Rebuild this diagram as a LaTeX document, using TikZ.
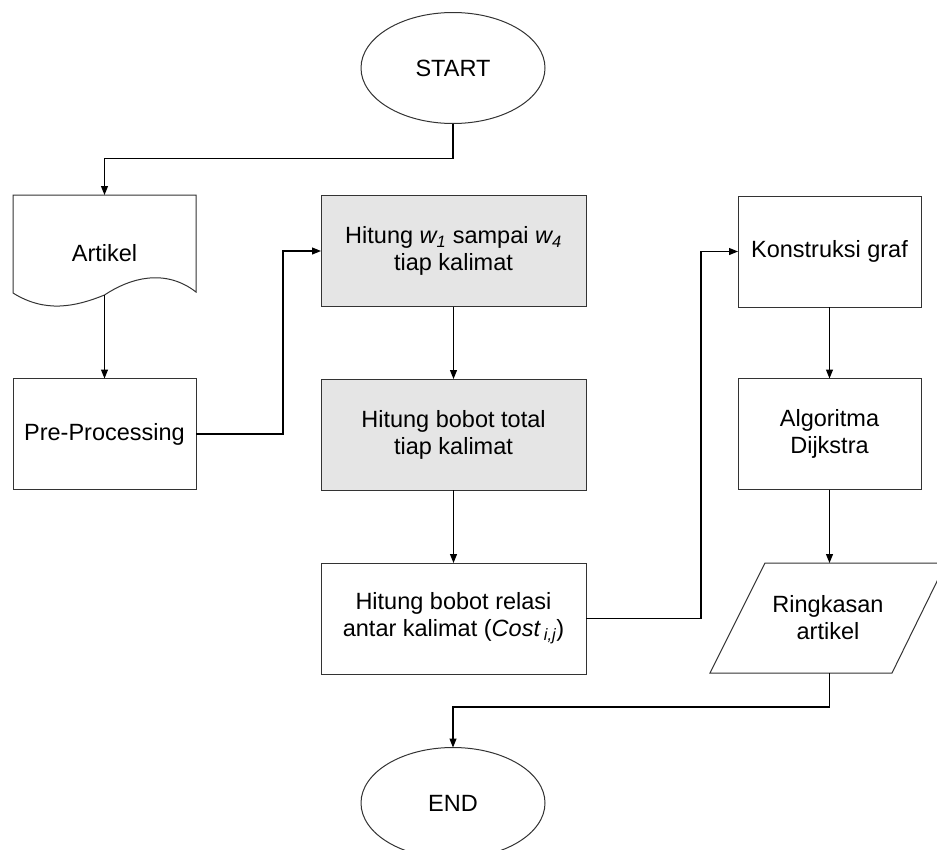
\documentclass[tikz,border=0pt]{standalone}
\usepackage{fontspec}
\setmainfont{Liberation Sans}
\usetikzlibrary{arrows.meta,shapes.geometric}
\begin{document}
\begin{tikzpicture}[x=1pt,y=-1pt,
  every node/.style={font=\fontsize{23.5}{27}\selectfont, align=center, outer sep=0pt, inner sep=0pt},
  shapeline/.style={draw=black!80, line width=1pt},
  widebox/.style={shapeline, minimum width=265pt, minimum height=111pt},
  narrowbox/.style={shapeline, minimum width=183pt, minimum height=111pt},
  grayfill/.style={fill=black!10},
  term/.style={shapeline, ellipse, minimum width=184pt, minimum height=111pt},
  conn/.style={line width=1.1pt, -{Triangle[length=9pt,width=7pt]}},
  plain/.style={line width=1.1pt}
]
\useasboundingbox (0,0) rectangle (937,849);

% terminals
\node[term] (start) at (453,68) {START};
\node[term] (endn) at (453,803) {END};

% document shape (Artikel)
\draw[shapeline, fill=white] (13,195) -- (196,195) -- (196,292)
  .. controls (165,268) and (130,278) .. (104.5,295)
  .. controls (75,307) and (45,313) .. (13,293) -- cycle;
\node (art) at (104.5,253) {Artikel};
\coordinate (artt) at (104.5,195);
\coordinate (artb) at (104.5,295);

% left column
\node[narrowbox] (pre) at (104.5,434) {Pre-Processing};

% middle column
\node[widebox, grayfill] (h1) at (453.5,251) {Hitung {\itshape w\textsubscript{1}} sampai {\itshape w\textsubscript{4}}\\tiap kalimat};
\node[widebox, grayfill] (h2) at (453.5,434.5) {Hitung bobot total\\tiap kalimat};
\node[widebox] (h3) at (453.5,618.5) {Hitung bobot relasi\\antar kalimat ({\itshape Cost\,\textsubscript{i,j}})};

% right column
\node[narrowbox] (k) at (829.5,251.5) {Konstruksi graf};
\node[narrowbox] (a) at (829.5,434) {Algoritma\\Dijkstra};

% parallelogram (output)
\draw[shapeline, fill=white] (710,673) -- (892,673) -- (946,563) -- (765,563) -- cycle;
\node (out) at (828,618) {Ringkasan\\artikel};
\coordinate (outt) at (829.5,563);
\coordinate (outb) at (829.5,673);

% connectors
\draw[conn] (start.south) -- ++(0,35) -| (artt);
\draw[conn] (artb) -- (pre.north);
\draw[conn] (pre.east) -- ++(87,0) |- (h1.west);
\draw[conn] (h1.south) -- (h2.north);
\draw[conn] (h2.south) -- (h3.north);
\draw[conn] (h3.east) -- ++(115,0) |- (k.west);
\draw[conn] (k.south) -- (a.north);
\draw[conn] (a.south) -- (outt);
\draw[conn] (outb) -- ++(0,34) -| (endn.north);
\end{tikzpicture}
\end{document}
